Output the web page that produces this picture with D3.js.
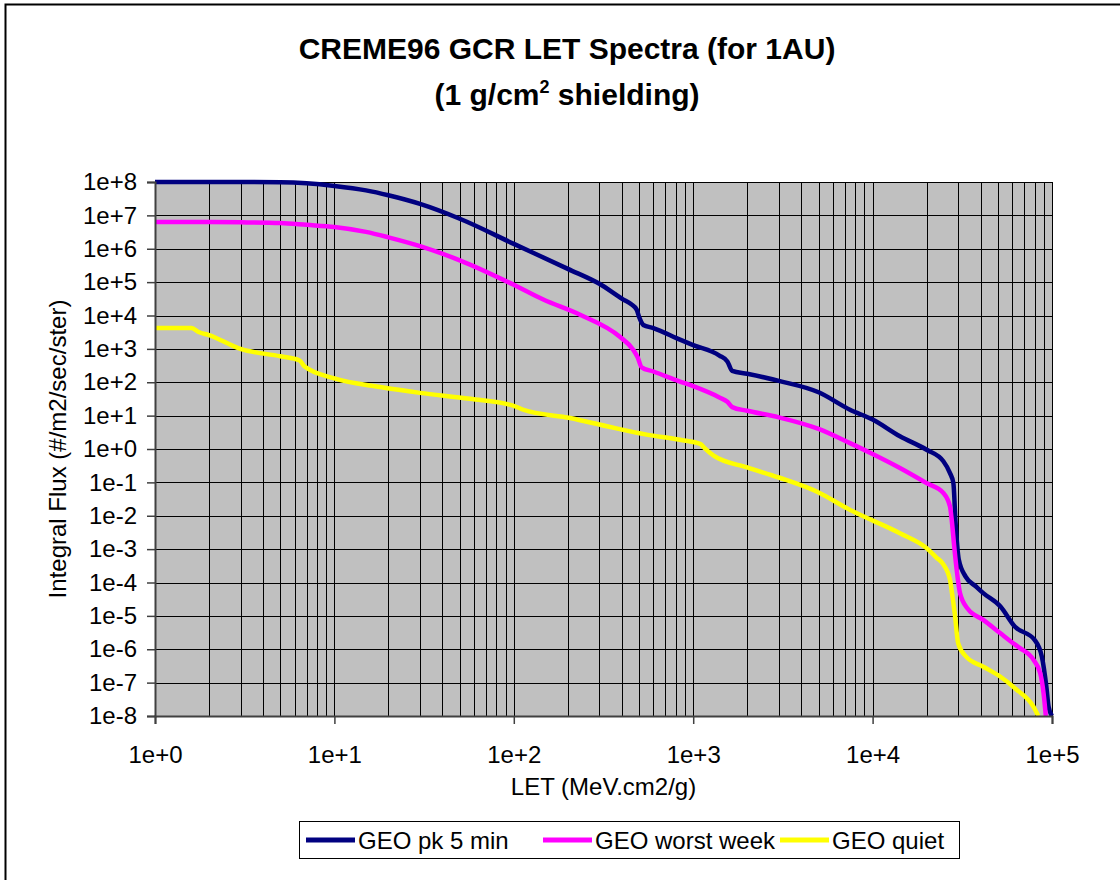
<!DOCTYPE html>
<html>
<head>
<meta charset="utf-8">
<script src="https://cdnjs.cloudflare.com/ajax/libs/d3/7.8.5/d3.min.js"></script>
<style>
  body { margin: 0; background: #fff; }
  text { font-family: "Liberation Sans", Arial, sans-serif; fill: #000; }
</style>
</head>
<body>
<svg width="1120" height="880"></svg>
<script>
// LET (MeV.cm2/g) and integral flux (#/m2/sec/ster)
var pk5Let = [1, 2, 3, 5, 7, 10, 15, 20, 30, 50, 100, 200, 300, 408, 450, 484, 500, 527, 600, 844, 1000, 1400, 1550, 1650, 2000, 3000, 5000, 7480, 10000, 14200, 20000, 24800, 27000, 28200, 29000, 30200, 33000, 37700, 41400, 51600, 62000, 80000, 87800, 93000, 95700, 100000];
var pk5Flux = [1e8, 1e8, 1e8, 9.8e7, 9.1e7, 7.6e7, 5.6e7, 4.0e7, 2.2e7, 7.9e6, 1.4e6, 2.5e5, 8.9e4, 3.0e4, 2.2e4, 1.5e4, 8.9e3, 5.2e3, 4.2e3, 1.9e3, 1.3e3, 630, 420, 220, 180, 110, 50, 15, 7.6, 2.4, 0.95, 0.43, 0.19, 0.095, 6.3e-3, 5.0e-4, 1.5e-4, 7.6e-5, 4.8e-5, 1.9e-5, 4.8e-6, 1.9e-6, 6.0e-7, 7.6e-8, 1.9e-8, 1e-8];

var worstLet = [1, 2, 3, 5, 7, 10, 15, 20, 30, 50, 100, 146, 234, 390, 464, 490, 516, 600, 844, 1000, 1400, 1550, 1650, 2000, 3000, 5000, 7480, 10000, 14200, 20000, 24800, 27000, 27600, 28600, 29400, 30700, 34000, 41400, 51600, 62000, 66000, 78900, 86000, 89700, 92400];
var worstFlux = [6.3e6, 6.3e6, 6.2e6, 5.9e6, 5.2e6, 4.5e6, 3.2e6, 2.2e6, 1.2e6, 4.5e5, 8.3e4, 3.0e4, 1.05e4, 2.3e3, 930, 560, 280, 210, 105, 76, 35, 26, 18, 14, 8.9, 4.0, 1.5, 0.71, 0.27, 0.095, 0.048, 0.019, 7.6e-3, 1.0e-3, 2.5e-4, 4.8e-5, 1.6e-5, 7.6e-6, 3.0e-6, 1.4e-6, 1.1e-6, 4.8e-7, 1.9e-7, 4.9e-8, 1e-8];

var quietLet = [1, 1.6, 1.75, 2, 3, 5, 6.4, 6.8, 10, 18, 30, 57, 99, 113, 206, 330, 550, 844, 1100, 1150, 1300, 2000, 3000, 5000, 7480, 14200, 20000, 22700, 24800, 27000, 28000, 28700, 30000, 33200, 41400, 51600, 63400, 78800, 83800];
var quietFlux = [4.2e3, 4.2e3, 3.2e3, 2.6e3, 1.0e3, 600, 450, 300, 130, 72, 48, 32, 20, 15, 8.5, 4.8, 2.7, 1.9, 1.4, 1.1, 0.63, 0.28, 0.14, 0.05, 0.015, 3.0e-3, 1.07e-3, 5.6e-4, 3.5e-4, 1.2e-4, 3.2e-5, 1.2e-5, 1.5e-6, 6.0e-7, 3.0e-7, 1.5e-7, 6.2e-8, 1.9e-8, 1e-8];

var seriesNames = ["GEO pk 5 min", "GEO worst week", "GEO quiet"];
var seriesColors = ["#000080", "#ff00ff", "#ffff00"];
var xTickValues = [1e0, 1e1, 1e2, 1e3, 1e4, 1e5];
var yTickValues = [1e-8, 1e-7, 1e-6, 1e-5, 1e-4, 1e-3, 1e-2, 1e-1, 1e0, 1e1, 1e2, 1e3, 1e4, 1e5, 1e6, 1e7, 1e8];

var series = [
    { name: seriesNames[0], color: seriesColors[0], values: pk5Let.map(function (d, i) { return [d, pk5Flux[i]]; }) },
    { name: seriesNames[1], color: seriesColors[1], values: worstLet.map(function (d, i) { return [d, worstFlux[i]]; }) },
    { name: seriesNames[2], color: seriesColors[2], values: quietLet.map(function (d, i) { return [d, quietFlux[i]]; }) }
];

var svg = d3.select("svg");
var plotLeft = 155, plotRight = 1052, plotTop = 182, plotBottom = 716;

// exponent style labels like 1e+3 / 1e-3
function expLabel(v) {
    var e = Math.round(Math.log10(v));
    return "1e" + (e < 0 ? "-" : "+") + Math.abs(e);
}

var x = d3.scaleLog().domain([1, 1e5]).range([plotLeft, plotRight]);
var y = d3.scaleLog().domain([1e-8, 1e8]).range([plotBottom, plotTop]);

// outer chart border (runs off the right and bottom of the picture)
svg.append("rect")
    .attr("x", 5.5).attr("y", 4.5)
    .attr("width", 1200).attr("height", 1000)
    .attr("fill", "none").attr("stroke", "#000").attr("stroke-width", 2);

// title
var title = svg.append("g").attr("text-anchor", "middle")
    .style("font-weight", "bold").style("font-size", "30px");
title.append("text").attr("x", 567).attr("y", 59).text("CREME96 GCR LET Spectra (for 1AU)");
var t2 = title.append("text").attr("x", 567).attr("y", 105);
t2.append("tspan").text("(1 g/cm");
t2.append("tspan").attr("dy", -12).style("font-size", "18px").text("2");
t2.append("tspan").attr("dy", 12).text(" shielding)");

// plot area
svg.append("rect")
    .attr("x", plotLeft).attr("y", plotTop)
    .attr("width", plotRight - plotLeft).attr("height", plotBottom - plotTop)
    .attr("fill", "#c0c0c0");

var grid = svg.append("g").attr("shape-rendering", "crispEdges");
var xGrid = [];
for (var d = 1; d < 1e5; d *= 10) {
    for (var k = 1; k <= 9; k++) xGrid.push(d * k);
}
xGrid.push(1e5);
grid.selectAll(".xg").data(xGrid).enter().append("line")
    .attr("x1", function (d) { return Math.round(x(d)) + 0.5; })
    .attr("x2", function (d) { return Math.round(x(d)) + 0.5; })
    .attr("y1", plotTop).attr("y2", plotBottom)
    .attr("stroke", "#000").attr("stroke-width", 1);
grid.selectAll(".yg").data(yTickValues).enter().append("line")
    .attr("y1", function (d) { return Math.round(y(d)) + 0.5; })
    .attr("y2", function (d) { return Math.round(y(d)) + 0.5; })
    .attr("x1", plotLeft).attr("x2", plotRight)
    .attr("stroke", "#000").attr("stroke-width", 1);

// series lines
svg.append("clipPath").attr("id", "clip")
    .append("rect").attr("x", plotLeft).attr("y", plotTop - 3)
    .attr("width", plotRight - plotLeft + 3).attr("height", plotBottom - plotTop + 3);

var line = d3.line()
    .x(function (d) { return x(d[0]); })
    .y(function (d) { return y(d[1]); })
    .curve(d3.curveMonotoneX);

svg.append("g").attr("clip-path", "url(#clip)")
    .selectAll("path").data(series).enter().append("path")
    .attr("d", function (s) { return line(s.values); })
    .attr("fill", "none")
    .attr("stroke", function (s) { return s.color; })
    .attr("stroke-width", 4.5)
    .attr("stroke-linejoin", "round");

// axes
var yAxis = svg.append("g")
    .attr("transform", "translate(" + plotLeft + ",0)")
    .call(d3.axisLeft(y).tickValues(yTickValues).tickFormat(expLabel).tickSize(8).tickPadding(10));
var xAxis = svg.append("g")
    .attr("transform", "translate(0," + plotBottom + ")")
    .call(d3.axisBottom(x).tickValues(xTickValues).tickFormat(expLabel).tickSize(8).tickPadding(22));
[xAxis, yAxis].forEach(function (a) {
    a.select(".domain").attr("stroke", "#404040").attr("stroke-width", 2);
    a.selectAll(".tick line").attr("stroke", "#404040").attr("stroke-width", 1.5);
    a.selectAll("text").style("font-size", "24px")
        .style("font-family", "'Liberation Sans', Arial, sans-serif").attr("fill", "#000");
});

// axis titles
svg.append("text")
    .attr("transform", "translate(66," + ((plotTop + plotBottom) / 2) + ") rotate(-90)")
    .attr("text-anchor", "middle").style("font-size", "24px")
    .text("Integral Flux (#/m2/sec/ster)");
svg.append("text")
    .attr("x", (plotLeft + plotRight) / 2).attr("y", 795)
    .attr("text-anchor", "middle").style("font-size", "24px")
    .text("LET (MeV.cm2/g)");

// legend
var legend = svg.append("g");
legend.append("rect")
    .attr("x", 299.5).attr("y", 821.5).attr("width", 660).attr("height", 37)
    .attr("fill", "#fff").attr("stroke", "#000").attr("stroke-width", 1);
var legendX = [306, 543, 780];
var items = legend.selectAll(".item").data(series).enter().append("g")
    .attr("transform", function (s, i) { return "translate(" + legendX[i] + ",840)"; });
items.append("line")
    .attr("x1", 0).attr("x2", 49)
    .attr("stroke", function (s) { return s.color; })
    .attr("stroke-width", 5);
items.append("text")
    .attr("x", 52).attr("y", 8.5)
    .style("font-size", "24px")
    .text(function (s) { return s.name; });
</script>
</body>
</html>
